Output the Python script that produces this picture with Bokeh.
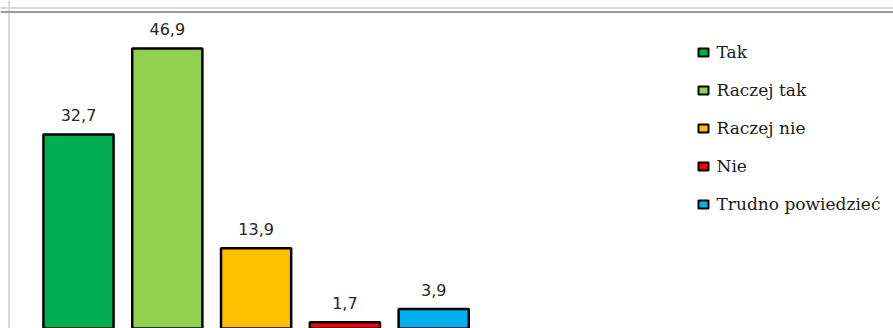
from bokeh.plotting import figure
from bokeh.models import ColumnDataSource, Range1d, Span
from bokeh.embed import file_html
from bokeh.resources import INLINE
from bokeh.core.properties import value

categories = ["Tak", "Raczej tak", "Raczej nie", "Nie", "Trudno powiedzieć"]
values = [32.7, 46.9, 13.9, 1.7, 3.9]
labels = ["32,7", "46,9", "13,9", "1,7", "3,9"]
colors = ["#00B050", "#92D050", "#FFC000", "#FF0000", "#00B0F0"]

W, H = 893, 328
step_px = 88.8          # pixels between bar centres
first_px = 78.0         # centre of first bar
unit_px = 6.056         # pixels per percentage point
base_px = 332.0         # baseline (below the visible window)

x_start = -first_px / step_px
x_end = x_start + W / step_px
y_start = (base_px - H) / unit_px
y_end = base_px / unit_px

def px_x(px):
    return x_start + px / step_px

def px_y(py):
    return y_end - py / unit_px

src = ColumnDataSource(dict(
    x=list(range(len(categories))),
    top=values,
    cat=categories,
    lab=labels,
    color=colors,
))

p = figure(width=W, height=H, output_backend="svg", toolbar_location=None,
           x_range=Range1d(x_start, x_end), y_range=Range1d(y_start, y_end),
           min_border=0, min_border_left=0, min_border_right=0,
           min_border_top=0, min_border_bottom=0)
p.axis.visible = False
p.grid.visible = False
p.outline_line_color = None
p.background_fill_color = "white"
p.border_fill_color = "white"

# decorative frame lines
p.add_layout(Span(location=px_y(7.5), dimension="width", line_color="#d9d9d9", line_width=2))
p.add_layout(Span(location=px_x(8.5), dimension="height", line_color="#d9d9d9", line_width=2))
p.add_layout(Span(location=px_y(11.5), dimension="width", line_color="#9a9a9a", line_width=2))

p.vbar(x="x", top="top", bottom=0, width=0.79, source=src,
       fill_color="color", line_color="black", line_width=2.5)

p.text(x="x", y="top", text="lab", source=src, text_align="center",
       text_baseline="alphabetic", y_offset=-19,
       text_font=value("DejaVu Sans"), text_font_size="16px", text_color="#262626")

# legend (drawn as keys + labels, one row per category)
row_px = [52.0 + 38.0 * i for i in range(len(categories))]
leg = ColumnDataSource(dict(
    kx=[px_x(703.0)] * len(categories),
    tx=[px_x(716.0)] * len(categories),
    y=[px_y(r) for r in row_px],
    cat=categories,
    color=colors,
))
p.rect(x="kx", y="y", width=10, height=8, width_units="screen", height_units="screen",
       source=leg, fill_color="color", line_color="black", line_width=2)
p.text(x="tx", y="y", text="cat", source=leg, text_align="left",
       text_baseline="middle", y_offset=-1,
       text_font=value("DejaVu Serif"), text_font_size="17px", text_color="#1a1a1a")

open("out.html", "w").write(file_html(p, INLINE))
